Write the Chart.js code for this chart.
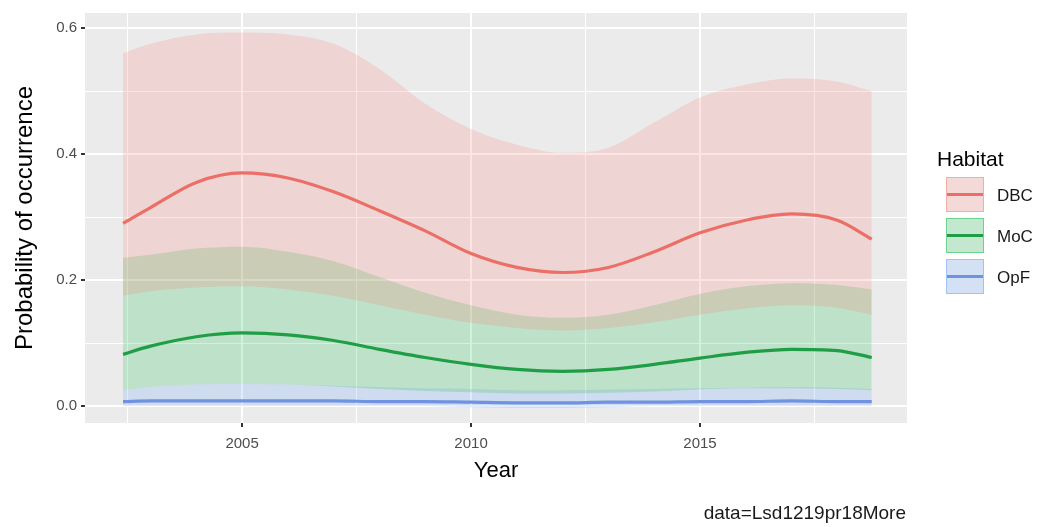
<!DOCTYPE html>
<html>
<head>
<meta charset="utf-8">
<script src="https://cdn.jsdelivr.net/npm/chart.js@4.4.1/dist/chart.umd.min.js"></script>
<style>
html,body{margin:0;padding:0;background:#fff;overflow:hidden}
#wrap{width:1037px;height:527px;position:relative}
</style>
</head>
<body>
<div id="wrap"><canvas id="c" width="1037" height="527"></canvas></div>
<script>
// ---- data ----
const years   = [2002.4, 2003, 2004, 2005, 2006, 2007, 2008, 2009, 2010, 2011, 2012, 2013, 2014, 2015, 2016, 2017, 2018, 2018.75];

const dbcMean = [0.290, 0.315, 0.355, 0.370, 0.362, 0.340, 0.310, 0.278, 0.242, 0.220, 0.212, 0.220, 0.245, 0.275, 0.295, 0.305, 0.295, 0.265];
const dbcHigh = [0.560, 0.575, 0.590, 0.593, 0.590, 0.575, 0.535, 0.480, 0.440, 0.415, 0.402, 0.410, 0.450, 0.490, 0.510, 0.520, 0.515, 0.500];
const dbcLow  = [0.175, 0.182, 0.188, 0.190, 0.185, 0.175, 0.160, 0.145, 0.132, 0.124, 0.120, 0.124, 0.133, 0.145, 0.155, 0.160, 0.156, 0.145];

const mocMean = [0.082, 0.095, 0.110, 0.116, 0.113, 0.104, 0.090, 0.077, 0.066, 0.058, 0.055, 0.058, 0.066, 0.076, 0.085, 0.090, 0.088, 0.077];
const mocHigh = [0.235, 0.240, 0.250, 0.253, 0.245, 0.230, 0.205, 0.180, 0.160, 0.145, 0.140, 0.145, 0.160, 0.178, 0.190, 0.195, 0.192, 0.185];
const mocLow  = [0.025, 0.030, 0.034, 0.035, 0.034, 0.031, 0.027, 0.024, 0.022, 0.020, 0.020, 0.021, 0.023, 0.026, 0.028, 0.028, 0.027, 0.025];

const opfMean = [0.007, 0.008, 0.008, 0.008, 0.008, 0.008, 0.007, 0.007, 0.006, 0.005, 0.005, 0.006, 0.006, 0.007, 0.007, 0.008, 0.007, 0.007];
const opfHigh = [0.025, 0.030, 0.034, 0.035, 0.034, 0.032, 0.030, 0.028, 0.027, 0.025, 0.025, 0.026, 0.027, 0.028, 0.029, 0.030, 0.029, 0.027];
const opfLow  = [0.000, 0.000, 0.000, 0.000, 0.000, 0.000, 0.000, 0.000, -0.002, -0.003, -0.003, -0.002, 0.000, 0.000, 0.000, 0.000, 0.000, 0.000];

const habitats    = ['DBC', 'MoC', 'OpF'];
const xMajorTicks = [2005, 2010, 2015];
const xMinorTicks = [2002.5, 2007.5, 2012.5, 2017.5];
const yMajorTicks = [0.0, 0.2, 0.4, 0.6];
const yMinorTicks = [0.1, 0.3, 0.5];
const legendTitle = 'Habitat';
const xTitle  = 'Year';
const yTitle  = 'Probability of occurrence';
const caption = 'data=Lsd1219pr18More';

// ---- styles ----
const lineColors = ['#ec6f67', '#1f9e45', '#6f93e0'];
const fillColors = ['rgba(248,118,109,0.2)', 'rgba(0,186,56,0.19)', 'rgba(97,156,255,0.2)'];
const FONT = '"Liberation Sans", Arial, Helvetica, sans-serif';
Chart.defaults.font.family = FONT;

const series = [
  {name: habitats[0], mean: dbcMean, low: dbcLow, high: dbcHigh},
  {name: habitats[1], mean: mocMean, low: mocLow, high: mocHigh},
  {name: habitats[2], mean: opfMean, low: opfLow, high: opfHigh}
];
const pts = arr => arr.map((v, i) => ({x: years[i], y: v}));

const datasets = [];
series.forEach((s, k) => {
  const hi = datasets.length;
  datasets.push({label: s.name + ' upper', data: pts(s.high), fill: hi + 1,
    backgroundColor: fillColors[k], borderColor: 'rgba(0,0,0,0)', borderWidth: 0,
    pointRadius: 0, order: 10, cubicInterpolationMode: 'monotone'});
  datasets.push({label: s.name + ' lower', data: pts(s.low), fill: false,
    borderColor: 'rgba(0,0,0,0)', borderWidth: 0, pointRadius: 0, order: 10,
    cubicInterpolationMode: 'monotone'});
});
series.forEach((s, k) => {
  datasets.push({label: s.name, data: pts(s.mean), fill: false, borderColor: lineColors[k],
    borderWidth: 3.2, pointRadius: 0, order: 0, cubicInterpolationMode: 'monotone'});
});

const isIn = (arr, v) => arr.some(a => Math.abs(a - v) < 1e-6);

const panelBg = {
  id: 'panelBg',
  beforeDraw(chart) {
    const {ctx, chartArea: a} = chart;
    ctx.save();
    ctx.fillStyle = '#EBEBEB';
    ctx.fillRect(a.left, a.top, a.right - a.left, a.bottom - a.top);
    ctx.restore();
  }
};

const extras = {
  id: 'extras',
  afterDraw(chart) {
    const ctx = chart.ctx;
    ctx.save();
    // legend
    ctx.fillStyle = '#000';
    ctx.font = '21px ' + FONT;
    ctx.textBaseline = 'middle';
    ctx.textAlign = 'left';
    ctx.fillText(legendTitle, 937, 160);
    habitats.forEach((h, i) => {
      const x0 = 946, y0 = 177 + i * 41, w = 38, hgt = 35;
      ctx.fillStyle = '#F2F2F2';
      ctx.fillRect(x0, y0, w, hgt);
      ctx.fillStyle = fillColors[i];
      ctx.fillRect(x0, y0, w, hgt);
      ctx.strokeStyle = fillColors[i].replace(/0\.\d+\)$/, '0.45)');
      ctx.lineWidth = 1;
      ctx.strokeRect(x0 + 0.5, y0 + 0.5, w - 1, hgt - 1);
      ctx.strokeStyle = lineColors[i];
      ctx.lineWidth = 3;
      ctx.beginPath();
      ctx.moveTo(x0 + 1, y0 + hgt / 2);
      ctx.lineTo(x0 + w - 1, y0 + hgt / 2);
      ctx.stroke();
      ctx.fillStyle = '#1a1a1a';
      ctx.font = '17px ' + FONT;
      ctx.fillText(h, 997, y0 + hgt / 2 + 2);
    });
    // caption
    ctx.fillStyle = '#1a1a1a';
    ctx.font = '19px ' + FONT;
    ctx.textAlign = 'right';
    ctx.textBaseline = 'middle';
    ctx.fillText(caption, 906, 514);
    ctx.restore();
  }
};

new Chart(document.getElementById('c'), {
  type: 'line',
  data: {datasets},
  plugins: [panelBg, extras],
  options: {
    responsive: false,
    animation: false,
    devicePixelRatio: 1,
    layout: {padding: {left: 0, right: 130, top: 10, bottom: 0}},
    plugins: {legend: {display: false}, tooltip: {enabled: false}},
    elements: {line: {tension: 0.4}},
    scales: {
      x: {
        type: 'linear', min: 2001.57, max: 2019.52, offset: false,
        afterBuildTicks: s => { s.ticks = [...xMinorTicks, ...xMajorTicks].sort((a, b) => a - b).map(v => ({value: v})); },
        afterFit: s => { s.height = 104; },
        ticks: {
          autoSkip: false, maxRotation: 0, minRotation: 0, padding: 8,
          color: '#4d4d4d', font: {size: 15},
          callback: v => isIn(xMajorTicks, v) ? String(v) : ''
        },
        grid: {
          color: '#FFFFFF',
          lineWidth: c => (c.tick && isIn(xMajorTicks, c.tick.value)) ? 2 : 1,
          tickColor: c => (c.tick && isIn(xMajorTicks, c.tick.value)) ? '#333333' : 'rgba(0,0,0,0)',
          tickLength: 4, drawTicks: true
        },
        border: {display: false},
        title: {display: true, text: xTitle, color: '#000', font: {size: 22}, padding: {top: 0, bottom: 43}}
      },
      y: {
        type: 'linear', min: -0.027, max: 0.624,
        afterBuildTicks: s => { s.ticks = [...yMajorTicks, ...yMinorTicks].sort((a, b) => a - b).map(v => ({value: v})); },
        afterFit: s => { s.width = 85; },
        ticks: {
          padding: 4, color: '#4d4d4d', font: {size: 15},
          callback: v => isIn(yMajorTicks, v) ? v.toFixed(1) : ''
        },
        grid: {
          color: '#FFFFFF',
          lineWidth: c => (c.tick && isIn(yMajorTicks, c.tick.value)) ? 2 : 1,
          tickColor: c => (c.tick && isIn(yMajorTicks, c.tick.value)) ? '#333333' : 'rgba(0,0,0,0)',
          tickLength: 4, drawTicks: true
        },
        border: {display: false},
        title: {display: true, text: yTitle, color: '#000', font: {size: 24}, padding: {top: 11, bottom: 0}}
      }
    }
  }
});
</script>
</body>
</html>
